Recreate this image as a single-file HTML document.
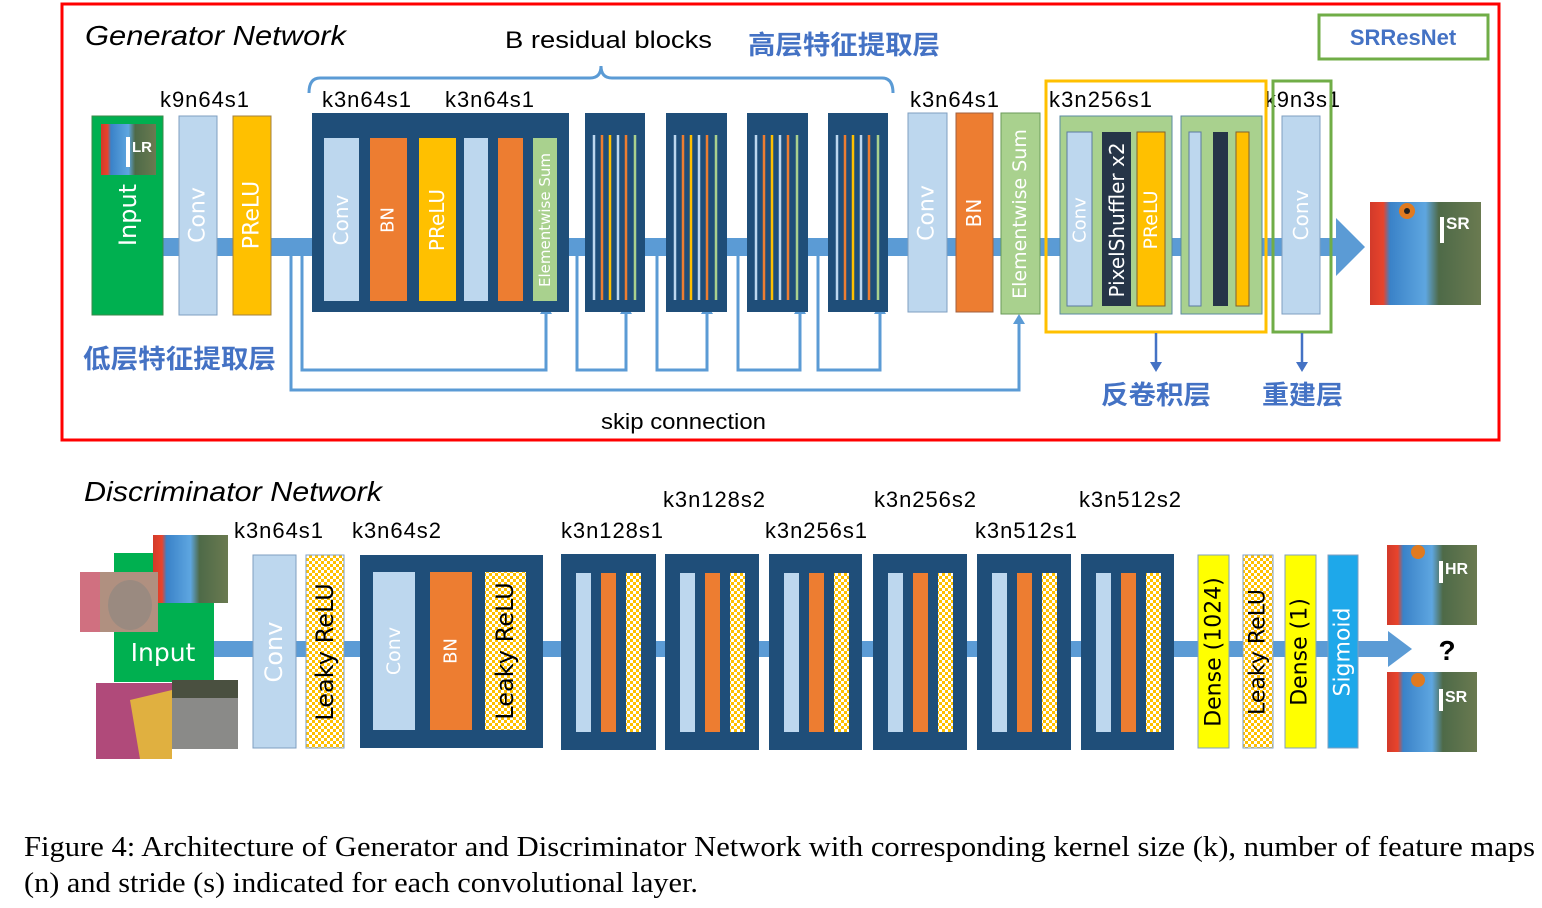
<!DOCTYPE html>
<html><head><meta charset="utf-8"><style>
html,body{margin:0;padding:0;background:#fff;width:1542px;height:908px;overflow:hidden}
svg{display:block}
.t{font-family:"Liberation Sans",sans-serif;fill:#000}
.cn{font-family:"Liberation Sans","Noto Sans CJK SC",sans-serif;fill:#4472c4;font-weight:bold}
.v{font-family:"DejaVu Sans","Liberation Sans",sans-serif;text-anchor:middle;dominant-baseline:central}
</style></head><body>
<svg width="1542" height="908" viewBox="0 0 1542 908" xmlns="http://www.w3.org/2000/svg">
<defs>
<pattern id="chk" width="6" height="6" patternUnits="userSpaceOnUse">
<rect width="6" height="6" fill="#fff"/><rect width="3" height="3" fill="#ffc000"/><rect x="3" y="3" width="3" height="3" fill="#ffc000"/>
</pattern>
<linearGradient id="bab" x1="0" y1="0" x2="1" y2="0">
<stop offset="0" stop-color="#d23a2a"/><stop offset="0.12" stop-color="#e8442c"/><stop offset="0.18" stop-color="#3a82c8"/><stop offset="0.5" stop-color="#5ea6e0"/><stop offset="0.62" stop-color="#4e6a48"/><stop offset="1" stop-color="#6a7a50"/>
</linearGradient>
</defs>

<!-- Generator frame -->
<rect x="62" y="4" width="1437" height="436" fill="none" stroke="#ff0000" stroke-width="3"/>
<text x="85" y="45" class="t" font-size="28" font-style="italic" textLength="261" lengthAdjust="spacingAndGlyphs">Generator Network</text>
<text x="505" y="48" class="t" font-size="24" textLength="207" lengthAdjust="spacingAndGlyphs">B residual blocks</text>
<text x="748" y="54" class="cn" font-size="26" textLength="192" lengthAdjust="spacingAndGlyphs">高层特征提取层</text>
<rect x="1319" y="15" width="169" height="44" fill="none" stroke="#70ad47" stroke-width="3"/>
<text x="1403" y="45" class="t" font-size="22" font-weight="bold" text-anchor="middle" style="fill:#4472c4">SRResNet</text>
<path d="M309,93 Q309,78 320,78 L590,78 Q601,78 601,66 Q601,78 612,78 L882,78 Q893,78 893,93" fill="none" stroke="#5b9bd5" stroke-width="3"/>

<g class="t" font-size="22">
<text x="160" y="107" textLength="89">k9n64s1</text><text x="322" y="107" textLength="89">k3n64s1</text><text x="445" y="107" textLength="89">k3n64s1</text>
<text x="910" y="107" textLength="89">k3n64s1</text><text x="1049" y="107" textLength="103">k3n256s1</text><text x="1265" y="107" textLength="75">k9n3s1</text>
</g>

<!-- main flow -->
<rect x="160" y="238" width="1180" height="18" fill="#5b9bd5"/>
<path d="M1336,218 L1365,247 L1336,276 z" fill="#5b9bd5"/>

<!-- skip connections -->
<g fill="none" stroke="#5b9bd5" stroke-width="3">
<path d="M291,256 L291,390 L1019,390 L1019,322"/>
<path d="M302,256 L302,370 L546,370 L546,312"/>
<path d="M577,256 L577,370 L626,370 L626,312"/>
<path d="M657,256 L657,370 L707,370 L707,312"/>
<path d="M738,256 L738,370 L800,370 L800,312"/>
<path d="M818,256 L818,370 L880,370 L880,312"/>
</g>
<g fill="#5b9bd5">
<path d="M1013,324 L1019,314 L1025,324 z"/><path d="M540,314 L546,304 L552,314 z"/>
<path d="M620,314 L626,304 L632,314 z"/><path d="M701,314 L707,304 L713,314 z"/>
<path d="M794,314 L800,304 L806,314 z"/><path d="M874,314 L880,304 L886,314 z"/>
</g>

<!-- Input -->
<rect x="92" y="116" width="71" height="199" fill="#00b050" stroke="#3a8a4a"/>
<rect x="101" y="124" width="55" height="51" fill="url(#bab)"/>
<rect x="126" y="137" width="4" height="30" fill="#fff"/>
<text x="132" y="152" font-family="Liberation Sans" font-weight="bold" font-size="15" fill="#fff">LR</text>
<text class="v" x="128" y="215" transform="rotate(-90 128 215)" font-size="24" fill="#fff">Input</text>
<rect x="179" y="116" width="38" height="199" fill="#bdd7ee" stroke="#7f9fc0"/>
<text class="v" x="198" y="215" transform="rotate(-90 198 215)" font-size="22" fill="#fff">Conv</text>
<rect x="233" y="116" width="38" height="199" fill="#ffc000" stroke="#a08040"/>
<text class="v" x="252" y="215" transform="rotate(-90 252 215)" font-size="22" fill="#fff">PReLU</text>

<!-- residual block 1 -->
<rect x="312" y="113" width="257" height="199" fill="#1f4e79"/>
<rect x="324" y="138" width="35" height="163" fill="#bdd7ee"/>
<text class="v" x="341" y="220" transform="rotate(-90 341 220)" font-size="20" fill="#fff">Conv</text>
<rect x="370" y="138" width="37" height="163" fill="#ed7d31"/>
<text class="v" x="388" y="220" transform="rotate(-90 388 220)" font-size="18" fill="#fff">BN</text>
<rect x="419" y="138" width="37" height="163" fill="#ffc000"/>
<text class="v" x="437" y="220" transform="rotate(-90 437 220)" font-size="20" fill="#fff">PReLU</text>
<rect x="464" y="138" width="24" height="163" fill="#bdd7ee"/>
<rect x="498" y="138" width="25" height="163" fill="#ed7d31"/>
<rect x="533" y="138" width="24" height="163" fill="#a9d18e"/>
<text class="v" x="545" y="220" transform="rotate(-90 545 220)" font-size="15" fill="#fff">Elementwise Sum</text>

<!-- small residual blocks -->
<g>
<rect x="585" y="113" width="60" height="199" fill="#1f4e79"/>
<rect x="666" y="113" width="61" height="199" fill="#1f4e79"/>
<rect x="747" y="113" width="61" height="199" fill="#1f4e79"/>
<rect x="828" y="113" width="60" height="199" fill="#1f4e79"/>
</g>
<g stroke-width="2.5">
<g transform="translate(585,0)"><line x1="9" y1="135" x2="9" y2="300" stroke="#bdd7ee"/><line x1="17" y1="135" x2="17" y2="300" stroke="#ed7d31"/><line x1="25" y1="135" x2="25" y2="300" stroke="#ffc000"/><line x1="33" y1="135" x2="33" y2="300" stroke="#bdd7ee"/><line x1="41" y1="135" x2="41" y2="300" stroke="#ed7d31"/><line x1="50" y1="135" x2="50" y2="300" stroke="#a9d18e"/></g>
<g transform="translate(666,0)"><line x1="9" y1="135" x2="9" y2="300" stroke="#bdd7ee"/><line x1="17" y1="135" x2="17" y2="300" stroke="#ed7d31"/><line x1="25" y1="135" x2="25" y2="300" stroke="#ffc000"/><line x1="33" y1="135" x2="33" y2="300" stroke="#bdd7ee"/><line x1="41" y1="135" x2="41" y2="300" stroke="#ed7d31"/><line x1="50" y1="135" x2="50" y2="300" stroke="#a9d18e"/></g>
<g transform="translate(747,0)"><line x1="9" y1="135" x2="9" y2="300" stroke="#bdd7ee"/><line x1="17" y1="135" x2="17" y2="300" stroke="#ed7d31"/><line x1="25" y1="135" x2="25" y2="300" stroke="#ffc000"/><line x1="33" y1="135" x2="33" y2="300" stroke="#bdd7ee"/><line x1="41" y1="135" x2="41" y2="300" stroke="#ed7d31"/><line x1="50" y1="135" x2="50" y2="300" stroke="#a9d18e"/></g>
<g transform="translate(828,0)"><line x1="9" y1="135" x2="9" y2="300" stroke="#bdd7ee"/><line x1="17" y1="135" x2="17" y2="300" stroke="#ed7d31"/><line x1="25" y1="135" x2="25" y2="300" stroke="#ffc000"/><line x1="33" y1="135" x2="33" y2="300" stroke="#bdd7ee"/><line x1="41" y1="135" x2="41" y2="300" stroke="#ed7d31"/><line x1="50" y1="135" x2="50" y2="300" stroke="#a9d18e"/></g>
</g>

<!-- post-residual -->
<rect x="908" y="113" width="39" height="199" fill="#bdd7ee" stroke="#7f9fc0"/>
<text class="v" x="927" y="213" transform="rotate(-90 927 213)" font-size="22" fill="#fff">Conv</text>
<rect x="956" y="113" width="37" height="199" fill="#ed7d31" stroke="#a06040"/>
<text class="v" x="974" y="213" transform="rotate(-90 974 213)" font-size="20" fill="#fff">BN</text>
<rect x="1001" y="113" width="39" height="201" fill="#a9d18e" stroke="#6a9a5a"/>
<text class="v" x="1020" y="214" transform="rotate(-90 1020 214)" font-size="19" fill="#fff">Elementwise Sum</text>

<!-- upsampling -->
<rect x="1060" y="116" width="112" height="198" fill="#a9d18e" stroke="#5a8aa0"/>
<rect x="1067" y="132" width="25" height="174" fill="#bdd7ee" stroke="#5a7aa0"/>
<text class="v" x="1080" y="220" transform="rotate(-90 1080 220)" font-size="18" fill="#fff">Conv</text>
<rect x="1102" y="132" width="29" height="174" fill="#263548"/>
<text class="v" x="1117" y="220" transform="rotate(-90 1117 220)" font-size="20" fill="#fff">PixelShuffler x2</text>
<rect x="1137" y="132" width="28" height="174" fill="#ffc000" stroke="#806030"/>
<text class="v" x="1151" y="220" transform="rotate(-90 1151 220)" font-size="19" fill="#fff">PReLU</text>
<rect x="1181" y="116" width="81" height="198" fill="#a9d18e" stroke="#5a8aa0"/>
<rect x="1189" y="132" width="12" height="174" fill="#bdd7ee" stroke="#5a7aa0"/>
<rect x="1213" y="132" width="15" height="174" fill="#263548"/>
<rect x="1236" y="132" width="13" height="174" fill="#ffc000" stroke="#806030"/>
<rect x="1046" y="81" width="220" height="251" fill="none" stroke="#ffc000" stroke-width="3"/>

<rect x="1282" y="116" width="38" height="198" fill="#bdd7ee" stroke="#7f9fc0"/>
<text class="v" x="1301" y="215" transform="rotate(-90 1301 215)" font-size="20" fill="#fff">Conv</text>
<rect x="1273" y="81" width="58" height="251" fill="none" stroke="#70ad47" stroke-width="3"/>

<!-- SR image -->
<rect x="1370" y="202" width="111" height="103" fill="url(#bab)"/>
<circle cx="1407" cy="211" r="8" fill="#e07a20"/><circle cx="1407" cy="211" r="3" fill="#222"/>
<rect x="1440" y="217" width="4" height="26" fill="#fff"/>
<text x="1446" y="229" font-family="Liberation Sans" font-weight="bold" font-size="17" fill="#fff">SR</text>

<!-- arrows to Chinese labels -->
<g stroke="#4472c4" stroke-width="2.5"><line x1="1156" y1="333" x2="1156" y2="364"/><line x1="1302" y1="333" x2="1302" y2="364"/></g>
<path d="M1150,362 L1156,372 L1162,362 z M1296,362 L1302,372 L1308,362 z" fill="#4472c4"/>
<text x="83" y="368" class="cn" font-size="26" textLength="193" lengthAdjust="spacingAndGlyphs">低层特征提取层</text>
<text x="1101" y="404" class="cn" font-size="26" textLength="110" lengthAdjust="spacingAndGlyphs">反卷积层</text>
<text x="1262" y="404" class="cn" font-size="26" textLength="81" lengthAdjust="spacingAndGlyphs">重建层</text>
<text x="601" y="429" class="t" font-size="22" textLength="165" lengthAdjust="spacingAndGlyphs">skip connection</text>

<!-- Discriminator -->
<text x="84" y="501" class="t" font-size="28" font-style="italic" textLength="298" lengthAdjust="spacingAndGlyphs">Discriminator Network</text>
<g class="t" font-size="22">
<text x="234" y="538" textLength="89">k3n64s1</text><text x="352" y="538" textLength="89">k3n64s2</text>
<text x="663" y="507" textLength="102">k3n128s2</text><text x="561" y="538" textLength="102">k3n128s1</text>
<text x="874" y="507" textLength="102">k3n256s2</text><text x="765" y="538" textLength="102">k3n256s1</text>
<text x="1079" y="507" textLength="102">k3n512s2</text><text x="975" y="538" textLength="102">k3n512s1</text>
</g>
<rect x="210" y="641" width="1190" height="16" fill="#5b9bd5"/>
<path d="M1388,631 L1412,649 L1388,667 z" fill="#5b9bd5"/>
<text x="1447" y="660" class="t" font-size="28" font-weight="bold" text-anchor="middle">?</text>

<!-- input collage -->
<rect x="114" y="553" width="100" height="129" fill="#00b050"/>
<text x="163" y="661" font-family="DejaVu Sans" font-size="25" fill="#fff" text-anchor="middle">Input</text>
<rect x="153" y="535" width="75" height="68" fill="url(#bab)"/>
<rect x="80" y="572" width="78" height="60" fill="#b09080"/>
<rect x="80" y="572" width="20" height="60" fill="#d07080"/>
<ellipse cx="130" cy="605" rx="22" ry="25" fill="#9a8a80"/>
<rect x="96" y="683" width="76" height="76" fill="#b04a7a"/>
<path d="M130,700 L172,690 L172,759 L140,759 z" fill="#e0b040"/>
<rect x="172" y="680" width="66" height="69" fill="#8a8a88"/>
<rect x="172" y="680" width="66" height="18" fill="#4a5040"/>

<rect x="253" y="555" width="43" height="193" fill="#bdd7ee" stroke="#7f9fc0"/>
<text class="v" x="274" y="652" transform="rotate(-90 274 652)" font-size="24" fill="#fff">Conv</text>
<rect x="306" y="555" width="38" height="193" fill="url(#chk)" stroke="#7f9fc0"/>
<text class="v" x="325" y="652" transform="rotate(-90 325 652)" font-size="24" fill="#000">Leaky ReLU</text>

<rect x="360" y="555" width="183" height="193" fill="#1f4e79"/>
<rect x="373" y="572" width="42" height="158" fill="#bdd7ee"/>
<text class="v" x="394" y="651" transform="rotate(-90 394 651)" font-size="19" fill="#fff">Conv</text>
<rect x="430" y="572" width="42" height="158" fill="#ed7d31"/>
<text class="v" x="451" y="651" transform="rotate(-90 451 651)" font-size="18" fill="#fff">BN</text>
<rect x="485" y="572" width="41" height="158" fill="url(#chk)"/>
<text class="v" x="505" y="651" transform="rotate(-90 505 651)" font-size="24" fill="#000">Leaky ReLU</text>

<g>
<g transform="translate(561,0)"><rect width="95" y="554" height="196" fill="#1f4e79"/><rect x="15" y="573" width="15" height="159" fill="#bdd7ee"/><rect x="40" y="573" width="15" height="159" fill="#ed7d31"/><rect x="65" y="573" width="15" height="159" fill="url(#chk)"/></g>
<g transform="translate(665,0)"><rect width="94" y="554" height="196" fill="#1f4e79"/><rect x="15" y="573" width="15" height="159" fill="#bdd7ee"/><rect x="40" y="573" width="15" height="159" fill="#ed7d31"/><rect x="65" y="573" width="15" height="159" fill="url(#chk)"/></g>
<g transform="translate(769,0)"><rect width="93" y="554" height="196" fill="#1f4e79"/><rect x="15" y="573" width="15" height="159" fill="#bdd7ee"/><rect x="40" y="573" width="15" height="159" fill="#ed7d31"/><rect x="65" y="573" width="15" height="159" fill="url(#chk)"/></g>
<g transform="translate(873,0)"><rect width="94" y="554" height="196" fill="#1f4e79"/><rect x="15" y="573" width="15" height="159" fill="#bdd7ee"/><rect x="40" y="573" width="15" height="159" fill="#ed7d31"/><rect x="65" y="573" width="15" height="159" fill="url(#chk)"/></g>
<g transform="translate(977,0)"><rect width="94" y="554" height="196" fill="#1f4e79"/><rect x="15" y="573" width="15" height="159" fill="#bdd7ee"/><rect x="40" y="573" width="15" height="159" fill="#ed7d31"/><rect x="65" y="573" width="15" height="159" fill="url(#chk)"/></g>
<g transform="translate(1081,0)"><rect width="93" y="554" height="196" fill="#1f4e79"/><rect x="15" y="573" width="15" height="159" fill="#bdd7ee"/><rect x="40" y="573" width="15" height="159" fill="#ed7d31"/><rect x="65" y="573" width="15" height="159" fill="url(#chk)"/></g>
</g>

<rect x="1198" y="555" width="31" height="193" fill="#ffff00" stroke="#7f9fc0"/>
<text class="v" x="1214" y="652" transform="rotate(-90 1214 652)" font-size="22" fill="#000">Dense (1024)</text>
<rect x="1243" y="555" width="30" height="193" fill="url(#chk)" stroke="#7f9fc0"/>
<text class="v" x="1258" y="652" transform="rotate(-90 1258 652)" font-size="22" fill="#000">Leaky ReLU</text>
<rect x="1285" y="555" width="31" height="193" fill="#ffff00" stroke="#7f9fc0"/>
<text class="v" x="1300" y="652" transform="rotate(-90 1300 652)" font-size="22" fill="#000">Dense (1)</text>
<rect x="1328" y="555" width="30" height="193" fill="#1ea8ea" stroke="#7f9fc0"/>
<text class="v" x="1343" y="652" transform="rotate(-90 1343 652)" font-size="22" fill="#fff">Sigmoid</text>

<rect x="1387" y="545" width="90" height="80" fill="url(#bab)"/>
<circle cx="1418" cy="552" r="7" fill="#e07a20"/>
<rect x="1439" y="561" width="4" height="22" fill="#fff"/>
<text x="1445" y="574" font-family="Liberation Sans" font-weight="bold" font-size="16" fill="#fff">HR</text>
<rect x="1387" y="672" width="90" height="80" fill="url(#bab)"/>
<circle cx="1418" cy="680" r="7" fill="#e07a20"/>
<rect x="1439" y="689" width="4" height="22" fill="#fff"/>
<text x="1445" y="702" font-family="Liberation Sans" font-weight="bold" font-size="16" fill="#fff">SR</text>

<!-- caption -->
<g font-family="Liberation Serif" font-size="28" fill="#000">
<text x="24" y="856" textLength="1511" lengthAdjust="spacingAndGlyphs">Figure 4:  Architecture of Generator and Discriminator Network with corresponding kernel size (k), number of feature maps</text>
<text x="24" y="892" textLength="674" lengthAdjust="spacingAndGlyphs">(n) and stride (s) indicated for each convolutional layer.</text>
</g>
</svg>
</body></html>
